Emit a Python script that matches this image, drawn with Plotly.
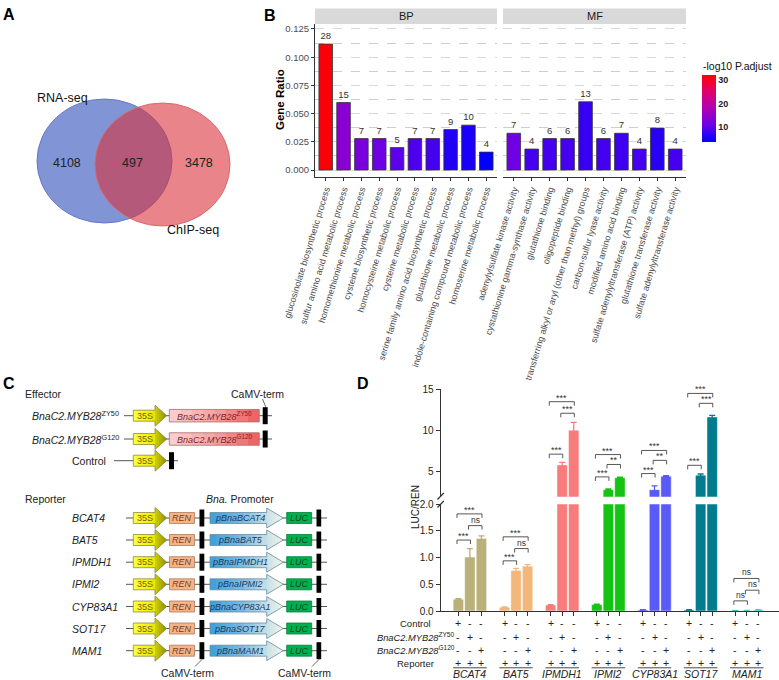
import plotly.graph_objects as go

W, H = 779, 680
FONT = "Liberation Sans, Arial, Helvetica, sans-serif"
OFF = 0

# ---------------- data ----------------
# Panel A (Venn)
venn_sets = ["RNA-seq", "ChIP-seq"]
venn_counts = [4108, 497, 3478]   # RNA only, overlap, ChIP only

# Panel B (GO enrichment)
bp_terms = ["glucosinolate biosynthetic process", "sulfur amino acid metabolic process",
            "homomethionine metabolic process", "cysteine biosynthetic process",
            "homocysteine metabolic process", "cysteine metabolic process",
            "serine family amino acid biosynthetic process", "glutathione metabolic process",
            "indole-containing compound metabolic process", "homoserine metabolic process"]
bp_ratio = [0.1116, 0.0598, 0.0279, 0.0279, 0.0199, 0.0279, 0.0279, 0.0359, 0.0398, 0.0159]
bp_count = [28, 15, 7, 7, 5, 7, 7, 9, 10, 4]
bp_logp = [31.5, 13.5, 12.0, 11.0, 9.5, 8.5, 8.0, 5.5, 5.0, 3.3]

mf_terms = ["adenylylsulfate kinase activity", "cystathionine gamma-synthase activity",
            "glutathione binding", "oligopeptide binding",
            "transferring alkyl or aryl (other than methyl) groups", "carbon-sulfur lyase activity",
            "modified amino acid binding", "sulfate adenylyltransferase (ATP) activity",
            "glutathione transferase activity", "sulfate adenylyltransferase activity"]
mf_ratio = [0.0326, 0.0186, 0.0279, 0.0279, 0.0605, 0.0279, 0.0326, 0.0186, 0.0372, 0.0186]
mf_count = [7, 4, 6, 6, 13, 6, 7, 4, 8, 4]
mf_logp = [11.0, 8.0, 8.0, 8.0, 7.0, 8.0, 7.5, 8.0, 6.0, 8.0]

# Panel C (constructs)
effector_alleles = ["ZY50", "G120"]
reporter_genes = ["BCAT4", "BAT5", "IPMDH1", "IPMI2", "CYP83A1", "SOT17", "MAM1"]

# Panel D (LUC/REN)
d_genes = ["BCAT4", "BAT5", "IPMDH1", "IPMI2", "CYP83A1", "SOT17", "MAM1"]
d_control = [0.22, 0.07, 0.11, 0.12, 0.02, 0.02, 0.01]
d_zy50 = [1.01, 0.76, 5.85, 2.85, 2.85, 4.60, 0.01]
d_g120 = [1.36, 0.84, 10.05, 4.30, 4.48, 11.65, 0.02]
err_control = [0.01, 0.005, 0.01, 0.01, 0.003, 0.003, 0.002]
err_zy50 = [0.16, 0.04, 0.30, 0.08, 0.45, 0.15, 0.002]
err_g120 = [0.05, 0.03, 0.95, 0.08, 0.06, 0.20, 0.005]
sig_labels = [("***", "ns", "***"), ("***", "ns", "***"), ("***", "***", "***"),
              ("***", "**", "***"), ("***", "**", "***"), ("***", "***", "***"),
              ("ns", "ns", "ns")]
sig_heights = [(1.33, 1.60, 1.82), (0.94, 1.17, 1.39), (7.15, 12.1, 13.5),
               (4.4, 5.9, 7.1), (4.8, 6.4, 7.6), (5.8, 13.3, 14.5),
               (0.19, 0.39, 0.61)]
row_signs = {"Control": ["+", "-", "-"], "ZY50": ["-", "+", "-"],
             "G120": ["-", "-", "+"], "Reporter": ["+", "+", "+"]}
d_colors = ["#BAB07A", "#F3B77C", "#F87C7C", "#14C314", "#5A5AF6", "#017C8E", "#46CDD0"]

# ---------------- helpers ----------------
def px(x):
    return (x - OFF) / W


def py(y):
    return 1 - (y - OFF) / H


shapes = []
annotations = []


def ann(x, y, text, size=11, color="#111", xanchor="center", yanchor="middle",
        angle=0, xref="paper", yref="paper", yshift=0):
    if xref == "paper":
        x = px(x)
    if yref == "paper":
        y = py(y)
    annotations.append(dict(x=x, y=y, xref=xref, yref=yref, text=text, showarrow=False,
                            font=dict(size=size, color=color, family=FONT),
                            xanchor=xanchor, yanchor=yanchor, textangle=angle,
                            yshift=yshift))


def line(x0, y0, x1, y1, color="#333", width=1):
    shapes.append(dict(type="line", xref="paper", yref="paper", x0=px(x0), y0=py(y0),
                       x1=px(x1), y1=py(y1), line=dict(color=color, width=width)))


def path(points, fill=None, line_color=None, lw=0):
    d = "M " + " L ".join(f"{px(x):.5f},{py(y):.5f}" for x, y in points) + " Z"
    shapes.append(dict(type="path", xref="paper", yref="paper", path=d,
                       fillcolor=fill or "rgba(0,0,0,0)",
                       line=dict(color=line_color or "rgba(0,0,0,0)", width=lw)))


def rect(x0, y0, x1, y1, fill, line_color=None, lw=0):
    shapes.append(dict(type="rect", xref="paper", yref="paper", x0=px(x0), x1=px(x1),
                       y0=py(y1), y1=py(y0), fillcolor=fill,
                       line=dict(color=line_color or fill, width=lw)))


def hex2rgb(h):
    h = h.lstrip("#")
    return tuple(int(h[i:i + 2], 16) for i in (0, 2, 4))


def grad(stops, t):
    t = max(0.0, min(1.0, t))
    for (t0, c0), (t1, c1) in zip(stops, stops[1:]):
        if t <= t1:
            u = (t - t0) / (t1 - t0) if t1 > t0 else 0
            a, b = hex2rgb(c0), hex2rgb(c1)
            return "rgb(%d,%d,%d)" % tuple(round(a[i] + (b[i] - a[i]) * u) for i in range(3))
    return stops[-1][1]


def grad_box(x0, x1, yc, h, stops, outline, n=8):
    for i in range(n):
        a = x0 + (x1 - x0) * i / n
        b = x0 + (x1 - x0) * (i + 1) / n
        col = grad(stops, ((a + b) / 2 - x0) / (x1 - x0))
        bb = b + 0.6 if i < n - 1 else b
        path([(a, yc - h / 2), (bb, yc - h / 2), (bb, yc + h / 2), (a, yc + h / 2)], fill=col)
    path([(x0, yc - h / 2), (x1, yc - h / 2), (x1, yc + h / 2), (x0, yc + h / 2)],
         line_color=outline, lw=0.8)


def grad_arrow(x0, xb, xt, yc, hb, hh, stops, outline, nb=8, nh=6):
    total = xt - x0
    for i in range(nb):
        a = x0 + (xb - x0) * i / nb
        b = x0 + (xb - x0) * (i + 1) / nb
        col = grad(stops, ((a + b) / 2 - x0) / total)
        bb = b + 0.6
        path([(a, yc - hb / 2), (bb, yc - hb / 2), (bb, yc + hb / 2), (a, yc + hb / 2)], fill=col)

    def hf(x):
        return hh / 2 * (xt - x) / (xt - xb)
    for i in range(nh):
        a = xb + (xt - xb) * i / nh
        b = xb + (xt - xb) * (i + 1) / nh
        col = grad(stops, ((a + b) / 2 - x0) / total)
        bb = min(b + 0.6, xt)
        path([(a, yc - hf(a)), (bb, yc - hf(bb)), (bb, yc + hf(bb)), (a, yc + hf(a))], fill=col)
    path([(x0, yc - hb / 2), (xb, yc - hb / 2), (xb, yc - hh / 2), (xt, yc),
          (xb, yc + hh / 2), (xb, yc + hb / 2), (x0, yc + hb / 2)], line_color=outline, lw=0.8)


fig = go.Figure()

# ---------------- Panel labels ----------------
for lab, x, y in (("A", 9, 14), ("B", 270, 15), ("C", 9, 383), ("D", 363, 383)):
    ann(x, y, f"<b>{lab}</b>", size=16, color="#000")

# ---------------- Panel A: Venn ----------------
shapes.append(dict(type="circle", xref="paper", yref="paper", x0=px(37), x1=px(172),
                   y0=py(223), y1=py(99), fillcolor="#8094D6",
                   line=dict(color="#6678C2", width=1), layer="below"))
shapes.append(dict(type="circle", xref="paper", yref="paper", x0=px(95), x1=px(230),
                   y0=py(226), y1=py(103), fillcolor="rgba(217,50,60,0.6)",
                   line=dict(color="#D86A6A", width=1), layer="below"))
ann(62, 98, venn_sets[0], size=12.5, color="#111")
ann(193, 230, venn_sets[1], size=12.5, color="#111")
ann(67, 163, str(venn_counts[0]), size=12.5, color="#222")
ann(132, 163, str(venn_counts[1]), size=12.5, color="#222")
ann(199, 163, str(venn_counts[2]), size=12.5, color="#222")

# ---------------- Panel B: GO bars ----------------
fig.add_trace(go.Bar(x=list(range(len(bp_terms))), y=bp_ratio, xaxis="x", yaxis="y",
                     width=0.76, text=[str(c) for c in bp_count], textposition="outside",
                     textfont=dict(size=9.5, color="#333", family=FONT), constraintext="none",
                     cliponaxis=False,
                     marker=dict(color=bp_logp, coloraxis="coloraxis",
                                 line=dict(color="#333", width=0.8)),
                     showlegend=False, hoverinfo="skip"))
fig.add_trace(go.Bar(x=list(range(len(mf_terms))), y=mf_ratio, xaxis="x2", yaxis="y2",
                     width=0.76, text=[str(c) for c in mf_count], textposition="outside",
                     textfont=dict(size=9.5, color="#333", family=FONT), constraintext="none",
                     cliponaxis=False,
                     marker=dict(color=mf_logp, coloraxis="coloraxis",
                                 line=dict(color="#333", width=0.8)),
                     showlegend=False, hoverinfo="skip"))
# facet strips
for x0, x1, lab in ((315, 497, "BP"), (503, 686, "MF")):
    rect(x0, 8.5, x1, 24, "#D9D9D9")
    ann((x0 + x1) / 2, 16.3, lab, size=11, color="#1A1A1A")
ann(280, 100, "<b>Gene Ratio</b>", size=11.5, color="#000", angle=-90)
ann(701, 65.5, "-log10 P.adjust", size=10.5, color="#111", xanchor="left")

# ---------------- Panel C: constructs ----------------
ann(23, 394, "Effector", size=10.5, color="#222", xanchor="left")
ann(257, 394, "CaMV-term", size=10.5, color="#222")
line(262.5, 399, 266, 407.5, color="#444", width=0.8)
s35_stops = [(0, "#FFFF46"), (0.6, "#EDED00"), (0.66, "#CFCF00"), (1, "#8E8E00")]
prom_stops = [(0, "#3C9FDA"), (0.45, "#7BBBE2"), (0.78, "#C8E1E8"), (1, "#F2F6E6")]
pink_stops = [(0, "#FAD3D3"), (0.5, "#F4A3A3"), (1, "#EC5C5C")]

eff_y = [415.7, 439.0, 460.7]
for i, yc in enumerate(eff_y):
    if i < 2:
        ann(121, yc, f"<i>BnaC2.MYB28</i><sup>{effector_alleles[i]}</sup>", size=10.5,
            color="#222", xanchor="right")
        line(124, yc, 272, yc, color="#555", width=1)
        grad_arrow(133.3, 155, 166.7, yc, 11, 21, s35_stops, "#8A8A40")
        grad_box(169.3, 259.3, yc, 12.5, pink_stops, "#B06A6A")
        ann(214.3, yc, f"<i>BnaC2.MYB28</i><sup>{effector_alleles[i]}</sup>", size=9,
            color="#8A1E1E")
        rect(262.7, yc - 8.5, 267.7, yc + 8.5, "#000")
    else:
        ann(108, yc, "Control", size=10.5, color="#222", xanchor="right")
        line(114, yc, 178, yc, color="#555", width=1)
        grad_arrow(133.3, 155, 166.7, yc, 11, 21, s35_stops, "#8A8A40")
        rect(169, yc - 8.5, 174, yc + 8.5, "#000")
    ann(144.5, yc, "35S", size=9, color="#7A5C00")

ann(23, 499, "Reporter", size=10.5, color="#222", xanchor="left")
ann(240, 499, "<i>Bna.</i> Promoter", size=10.5, color="#222")
rep_y = [518.0, 540.0, 562.2, 584.3, 606.5, 628.5, 650.7]
for gene, yc in zip(reporter_genes, rep_y):
    ann(70, yc, f"<i>{gene}</i>", size=10.5, color="#222", xanchor="left")
    line(126, yc, 327, yc, color="#555", width=1)
    grad_arrow(133.3, 155, 166.7, yc, 11, 21, s35_stops, "#8A8A40")
    ann(144.5, yc, "35S", size=9, color="#7A5C00")
    rect(169.5, yc - 5.5, 194.5, yc + 5.5, "#F4B48B", "#B07A58", 0.8)
    ann(182, yc, "<i>REN</i>", size=9, color="#7B3B12")
    rect(199.5, yc - 8.5, 204.3, yc + 8.5, "#000")
    grad_arrow(210, 266.7, 283.3, yc, 11, 20, prom_stops, "#6A8CA0", nb=10, nh=6)
    ann(240, yc, f"<i>pBna{gene}</i>", size=9, color="#1F3A60")
    rect(286.7, yc - 5.5, 311.7, yc + 5.5, "#00B050", "#00803A", 0.8)
    ann(299.2, yc, "<i>LUC</i>", size=9, color="#0B4A1E")
    rect(316.5, yc - 8.5, 321.2, yc + 8.5, "#000")
ann(187, 673, "CaMV-term", size=10.5, color="#222")
line(202, 659.5, 195, 666.5, color="#444", width=0.8)
ann(304, 673, "CaMV-term", size=10.5, color="#222")
line(319, 659.5, 312, 666.5, color="#444", width=0.8)

# ---------------- Panel D: LUC/REN bars ----------------
tick_lo = 4 / 53.3
tick_hi = 4 / 8.24
bar_pos = []
for g, gene in enumerate(d_genes):
    xs = [g * 4, g * 4 + 1, g * 4 + 2]
    bar_pos += xs
    vals = [d_control[g], d_zy50[g], d_g120[g]]
    errs = [err_control[g], err_zy50[g], err_g120[g]]
    col = d_colors[g]
    for ax, lower in (("y3", True), ("y4", False)):
        e = [er if ((v < 2) == lower) else 0 for v, er in zip(vals, errs)]
        fig.add_trace(go.Bar(x=xs, y=vals, xaxis="x3", yaxis=ax, width=0.9,
                             marker=dict(color=col, line=dict(color="rgba(255,255,255,0.45)", width=1)),
                             error_y=dict(type="data", array=e, color=col, thickness=1.3, width=3,
                                          visible=True),
                             showlegend=False, hoverinfo="skip"))
    # significance brackets
    for (i, j), lab, hgt in zip(((0, 1), (1, 2), (0, 2)), sig_labels[g], sig_heights[g]):
        yref = "y3" if hgt < 2 else "y4"
        tk = tick_lo if hgt < 2 else tick_hi
        xa = g * 4 + i - 0.12
        xb = g * 4 + j + 0.05
        shapes.append(dict(type="path", xref="x3", yref=yref,
                           path=f"M {xa},{hgt - tk} L {xa},{hgt} L {xb},{hgt} L {xb},{hgt - tk}",
                           line=dict(color="#444", width=0.9)))
        ann((xa + xb) / 2, hgt, lab, size=9 if lab != "ns" else 8.5, color="#333",
            yanchor="bottom", xref="x3", yref=yref, yshift=-3 if lab != "ns" else -1)
    # table signs
    for key, yrow in (("Control", 623.3), ("ZY50", 636.7), ("G120", 650.0), ("Reporter", 663.3)):
        for k, s in enumerate(row_signs[key]):
            ann(xs[k], yrow, s, size=10.5, color="#222", xref="x3", yref="paper")
    shapes.append(dict(type="line", xref="x3", yref="paper", x0=xs[0] - 0.45, x1=xs[2] + 0.45,
                       y0=py(667.8), y1=py(667.8), line=dict(color="#333", width=0.9)))
    ann(xs[1], 674, f"<i>{gene}</i>", size=10.5, color="#222", xref="x3", yref="paper")

ann(415.5, 623.3, "Control", size=9.5, color="#222")
ann(415.5, 636.7, "<i>BnaC2.MYB28</i><sup>ZY50</sup>", size=9.3, color="#222")
ann(415.5, 650.0, "<i>BnaC2.MYB28</i><sup>G120</sup>", size=9.3, color="#222")
ann(415.5, 663.3, "Reporter", size=9.5, color="#222")
ann(415, 507, "LUC/REN", size=10, color="#222", angle=-90)
# axis break marks
line(437.5, 499.5, 443.8, 493.0, color="#333", width=1.2)
line(437.5, 507.5, 443.8, 501.0, color="#333", width=1.2)

grid_common = dict(showgrid=True, gridcolor="#CFCFCF", griddash="dash", gridwidth=0.8,
                   minor=dict(dtick=0.0125, tick0=0, showgrid=True, gridcolor="#C2C2C2",
                              gridwidth=0.8),
                   tickmode="linear", tick0=0, dtick=0.025, zeroline=False, automargin=False,
                   range=[-0.0057, 0.1294], domain=[py(176.5), py(24)])
xb_common = dict(range=[-0.6, 9.6], tickmode="array", tickvals=list(range(10)), tickangle=-73,
                 tickfont=dict(size=9, color="#4D4D4D", family=FONT), ticks="outside",
                 ticklen=3, tickcolor="#333", showline=True, linecolor="#333", linewidth=1.1,
                 showgrid=False, zeroline=False, automargin=False)

fig.update_layout(
    width=W, height=H, margin=dict(l=0, r=0, t=0, b=0, pad=0, autoexpand=False),
    paper_bgcolor="white", plot_bgcolor="rgba(0,0,0,0)",
    font=dict(family=FONT, color="#222"), showlegend=False, barmode="overlay",
    xaxis=dict(domain=[px(315), px(497)], anchor="y", ticktext=bp_terms, **xb_common),
    xaxis2=dict(domain=[px(503), px(686)], anchor="y2", ticktext=mf_terms, **xb_common),
    yaxis=dict(anchor="x", tickformat=".3f", ticks="outside", ticklen=3, tickcolor="#333",
               showline=True, linecolor="#333", linewidth=1.1,
               tickfont=dict(size=9.5, color="#4D4D4D", family=FONT), **grid_common),
    yaxis2=dict(anchor="x2", showticklabels=False, ticks="", showline=False, **grid_common),
    xaxis3=dict(domain=[px(440.7), 1.0], anchor="y3", range=[-1.53, 27.79],
                tickmode="array", tickvals=bar_pos, showticklabels=False, ticks="outside",
                ticklen=4, tickcolor="#333", showline=True, linecolor="#333", linewidth=1.1,
                showgrid=False, zeroline=False, automargin=False),
    yaxis3=dict(domain=[py(611), py(504.3)], anchor="x3", range=[0, 2], tickmode="array",
                tickvals=[0, 0.5, 1, 1.5, 2], ticktext=["0.0", "0.5", "1.0", "1.5", "2.0"],
                ticks="outside", ticklen=4, tickcolor="#333", showline=True, linecolor="#333",
                linewidth=1.1, showgrid=False, zeroline=False, automargin=False,
                tickfont=dict(size=10, color="#222", family=FONT)),
    yaxis4=dict(domain=[py(496.7), py(389.3)], anchor="x3", range=[2, 15], tickmode="array",
                tickvals=[5, 10, 15], ticks="outside", ticklen=4, tickcolor="#333",
                showline=True, linecolor="#333", linewidth=1.1, showgrid=False, zeroline=False,
                automargin=False, tickfont=dict(size=10, color="#222", family=FONT)),
    coloraxis=dict(colorscale=[[0, "#0000FF"], [0.25, "#6A00E8"], [0.5, "#B000B5"],
                               [0.75, "#E0006E"], [1, "#FF0000"]],
                   cmin=3.2, cmax=32.1,
                   colorbar=dict(x=px(702), xanchor="left", xpad=0, y=py(142.3),
                                 yanchor="bottom", ypad=0, len=(142.3 - 75) / H,
                                 lenmode="fraction", thickness=14, thicknessmode="pixels",
                                 outlinewidth=0, tickvals=[10, 20, 30], ticks="",
                                 tickfont=dict(size=9, color="#222", family=FONT, weight="bold"),
                                 title=dict(text=""))),
    shapes=shapes, annotations=annotations,
)

fig.write_html("out.html",
               config={"displayModeBar": False, "staticPlot": True},
               post_script="document.body.style.margin='0px';document.body.style.overflow='hidden';")
